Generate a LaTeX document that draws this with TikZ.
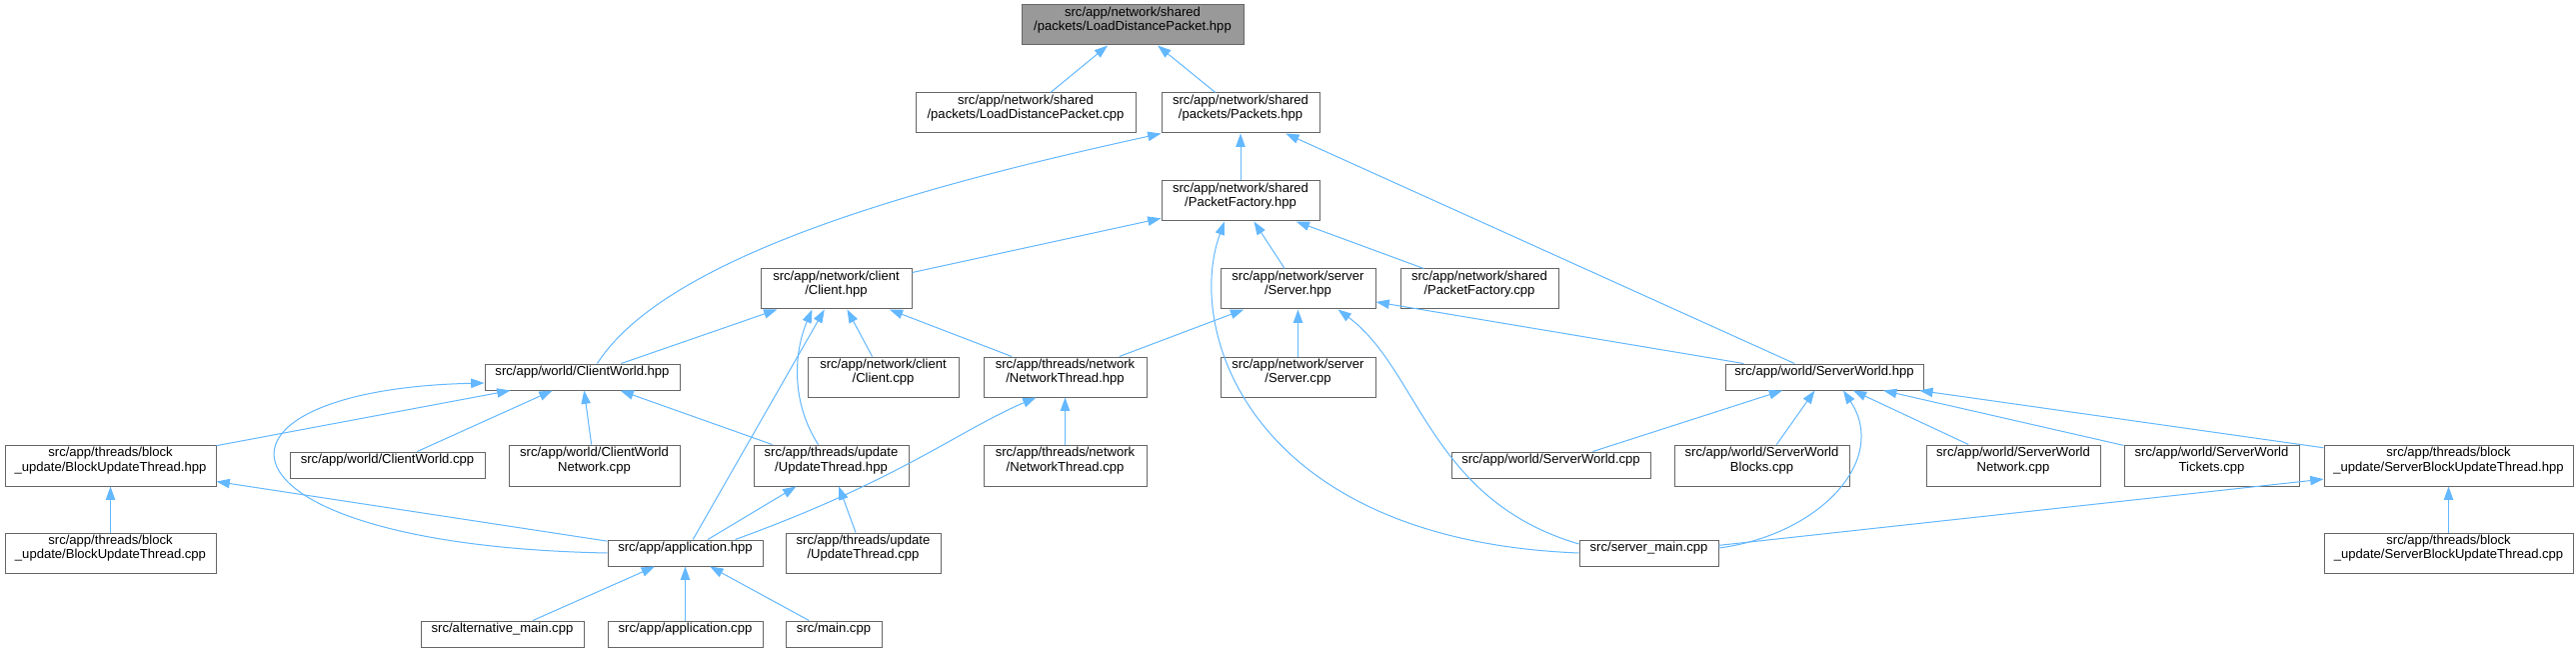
\documentclass[tikz,border=0pt]{standalone}
\usepackage{fontspec}
\setmainfont{Liberation Sans}
\usetikzlibrary{arrows.meta,fit,calc}
\definecolor{edgec}{HTML}{63B8FF}
\definecolor{bord}{HTML}{666666}
\definecolor{rootf}{HTML}{999999}
\newcommand\gbox[7][]{\node[gb,#1,fit={(#3,#4) (#5,#6)}] (#2) {#7};}
\tikzset{
  gb/.style={draw=bord, line width=0.75pt, fill=white, inner sep=0pt, align=center,
    font=\fontsize{9.8}{10.9}\selectfont},
  edge/.style={draw=edgec, line width=0.75pt, -{Triangle[length=10pt,width=7pt]}}
}
\begin{document}
\begin{tikzpicture}[x=0.75pt,y=-0.75pt]
\useasboundingbox[fill=white] (0,0) rectangle (2577,652);
% nodes
\gbox[fill=rootf,align=left]{root}{1022}{5}{1244}{45}{src/app/network/shared\\/packets/LoadDistancePacket.hpp}
\gbox[align=left]{ldp}{916}{93}{1136}{133}{src/app/network/shared\\/packets/LoadDistancePacket.cpp}
\gbox{pk}{1162}{93}{1320}{133}{src/app/network/shared\\/packets/Packets.hpp}
\gbox{pf}{1162}{181}{1320}{221}{src/app/network/shared\\/PacketFactory.hpp}
\gbox{cl}{761}{269}{912}{309}{src/app/network/client\\/Client.hpp}
\gbox{sv}{1221}{269}{1376}{309}{src/app/network/server\\/Server.hpp}
\gbox{pfc}{1401}{269}{1559}{309}{src/app/network/shared\\/PacketFactory.cpp}
\gbox{cw}{485}{364}{680}{390}{src/app/world/ClientWorld.hpp}
\gbox{clc}{808}{357}{959}{397}{src/app/network/client\\/Client.cpp}
\gbox{nt}{984}{357}{1147}{397}{src/app/threads/network\\/NetworkThread.hpp}
\gbox{svc}{1221}{357}{1376}{397}{src/app/network/server\\/Server.cpp}
\gbox{sw}{1726}{364}{1924}{390}{src/app/world/ServerWorld.hpp}
\gbox[align=left]{but}{5}{445}{216}{486}{src/app/threads/block\\\_update/BlockUpdateThread.hpp}
\gbox{cwc}{290}{452}{485}{478}{src/app/world/ClientWorld.cpp}
\gbox{cwn}{509}{445}{680}{486}{src/app/world/ClientWorld\\Network.cpp}
\gbox{ut}{754}{445}{909}{486}{src/app/threads/update\\/UpdateThread.hpp}
\gbox{ntc}{984}{445}{1147}{486}{src/app/threads/network\\/NetworkThread.cpp}
\gbox{swc}{1452}{452}{1651}{478}{src/app/world/ServerWorld.cpp}
\gbox{swb}{1675}{445}{1850}{486}{src/app/world/ServerWorld\\Blocks.cpp}
\gbox{swn}{1927}{445}{2101}{486}{src/app/world/ServerWorld\\Network.cpp}
\gbox{swt}{2125}{445}{2300}{486}{src/app/world/ServerWorld\\Tickets.cpp}
\gbox[align=left]{sbu}{2325}{445}{2574}{486}{src/app/threads/block\\\_update/ServerBlockUpdateThread.hpp}
\gbox[align=left]{butc}{5}{533}{216}{573}{src/app/threads/block\\\_update/BlockUpdateThread.cpp}
\gbox{app}{608}{540}{763}{566}{src/app/application.hpp}
\gbox{utc}{786}{533}{941}{573}{src/app/threads/update\\/UpdateThread.cpp}
\gbox{sm}{1580}{540}{1719}{566}{src/server\_main.cpp}
\gbox[align=left]{sbuc}{2325}{533}{2574}{573}{src/app/threads/block\\\_update/ServerBlockUpdateThread.cpp}
\gbox{alt}{421}{621}{584}{647}{src/alternative\_main.cpp}
\gbox{appc}{608}{621}{763}{647}{src/app/application.cpp}
\gbox{mn}{786}{621}{882}{647}{src/main.cpp}
% edges
\draw[edge] (ldp) -- (root);
\draw[edge] (pk) -- (root);
\draw[edge] (pf) -- (pk);
\draw[edge] ($(cw.north)+(15,0)$) .. controls (670,250) and (950,180) .. (pk.south west);
\draw[edge] (sw) -- (pk);
\draw[edge] (cl) -- (pf);
\draw[edge] (sv) -- (pf);
\draw[edge] (pfc) -- (pf);
\draw[edge] (sm.west) .. controls (1250,540) and (1185,330) .. ($(pf.south)+(-16,0)$);
\draw[edge] (cw) -- (cl);
\draw[edge] (clc) -- (cl);
\draw[edge] (nt) -- (cl);
\draw[edge] ($(ut.north)+(-13,0)$) .. controls (790,400) and (795,350) .. ($(cl.south)+(-24,0)$);
\draw[edge] (app) -- (cl);
\draw[edge] (nt) -- (sv);
\draw[edge] (svc) -- (sv);
\draw[edge] (sw) -- (sv);
\draw[edge] ($(sm.west)+(0,-9)$) .. controls (1430,500) and (1420,370) .. ($(sv.south)+(40,0)$);
\draw[edge] (but) -- (cw);
\draw[edge] (cwc) -- (cw);
\draw[edge] (cwn) -- (cw);
\draw[edge] (ut) -- (cw);
\draw[edge] (app.west) .. controls (200,545) and (180,390) .. ($(cw.west)+(0,6)$);
\draw[edge] ($(app.north)+(50,0)$) .. controls (900,480) and (960,430) .. ($(nt.south)+(-29,0)$);
\draw[edge] (ntc) -- (nt);
\draw[edge] (app) -- (but);
\draw[edge] (butc) -- (but);
\draw[edge] (app) -- (ut);
\draw[edge] (utc) -- (ut);
\draw[edge] (alt) -- (app);
\draw[edge] (appc) -- (app);
\draw[edge] (mn) -- (app);
\draw[edge] (swc) -- (sw);
\draw[edge] (swb) -- (sw);
\draw[edge] ($(sm.east)+(0,-5)$) .. controls (1820,535) and (1890,460) .. ($(sw.south)+(19,0)$);
\draw[edge] (swn) -- (sw);
\draw[edge] (swt) -- (sw);
\draw[edge] (sbu) -- (sw);
\draw[edge] (sm) -- (sbu);
\draw[edge] (sbuc) -- (sbu);
\end{tikzpicture}
\end{document}
